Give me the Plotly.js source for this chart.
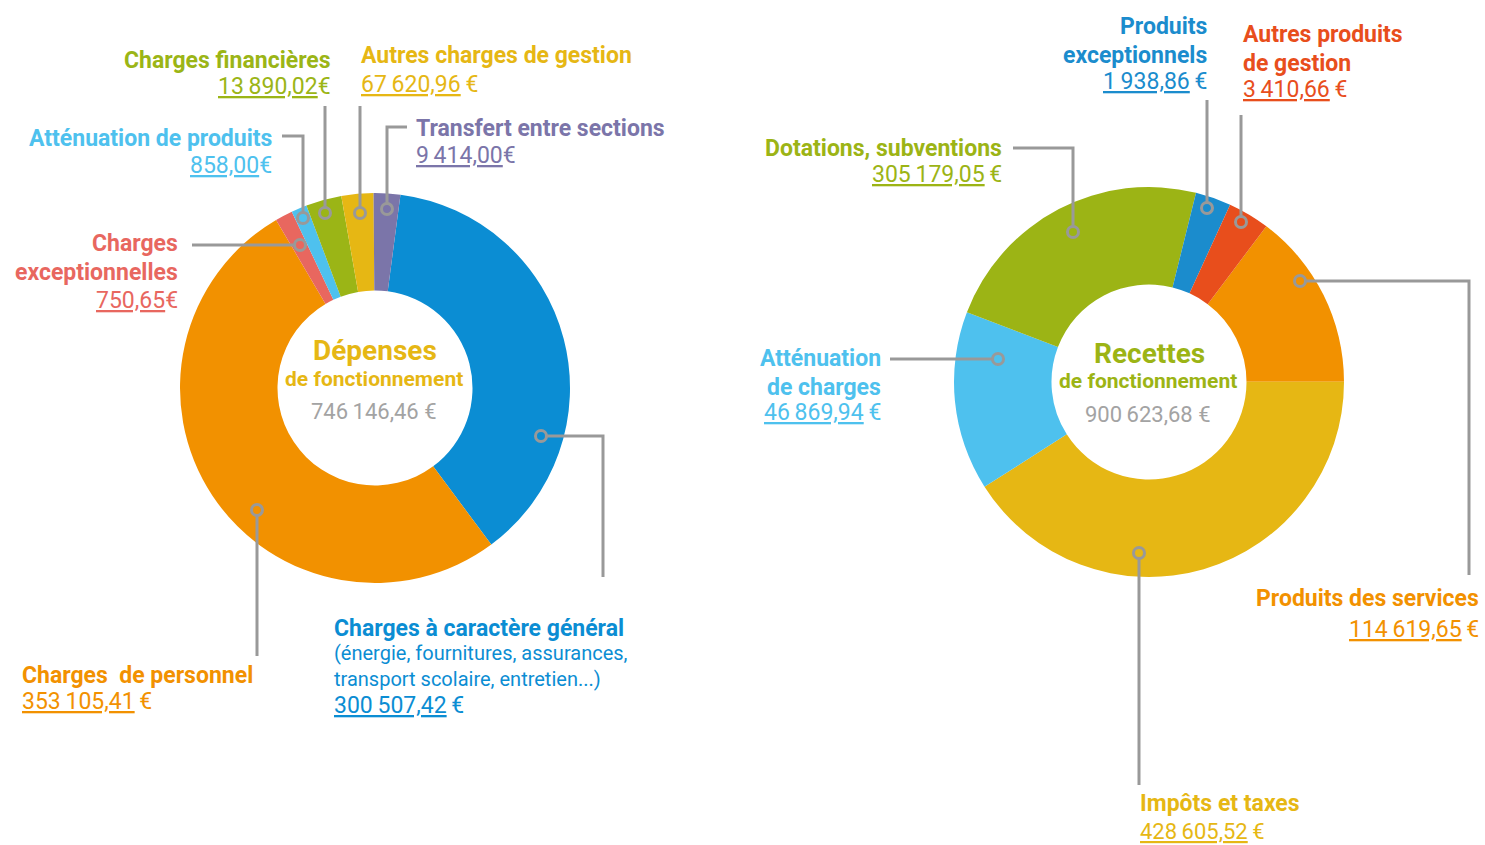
<!DOCTYPE html>
<html>
<head>
<meta charset="utf-8">
<script src="https://cdn.plot.ly/plotly-3.0.1.min.js"></script>
<style>
  html, body { margin: 0; padding: 0; background: #ffffff; }
  #chart { width: 1485px; height: 845px; }
</style>
</head>
<body>
<div id="chart"></div>
<script>
// ---------- DATA ----------
// Dépenses de fonctionnement (clockwise order, starting just right of 12 o'clock)
const depLabels = ['Charges à caractère général', 'Charges de personnel', 'Charges exceptionnelles',
  'Atténuation de produits', 'Charges financières', 'Autres charges de gestion', 'Transfert entre sections'];
const depAmounts = ['300\u2009507,42', '353\u2009105,41', '750,65', '858,00', '13\u2009890,02', '67\u2009620,96', '9\u2009414,00'];
// slice shares as drawn in the picture (%)
const depShares = [37.75, 51.7, 1.45, 1.3, 2.95, 2.65, 2.2];
const depColors = ['#0b8dd3', '#f29100', '#e8675f', '#4ec1ee', '#9bb516', '#e6b714', '#7b75a9'];
const depTotal = '746\u2009146,46 €';

// Recettes de fonctionnement
const recLabels = ['Produits des services', 'Impôts et taxes', 'Atténuation de charges',
  'Dotations, subventions', 'Produits exceptionnels', 'Autres produits de gestion'];
const recAmounts = ['114\u2009619,65', '428\u2009605,52', '46\u2009869,94', '305\u2009179,05', '1\u2009938,86', '3\u2009410,66'];
const recShares = [14.7, 41.0, 14.85, 23.05, 2.95, 3.45];
const recColors = ['#f29100', '#e6b714', '#4ec1ee', '#9cb415', '#1b8ccd', '#e84e1c'];
const recTotal = '900\u2009623,68 €';

// ---------- LAYOUT HELPERS ----------
const W = 1485, H = 845;
const px = x => x / W;
const py = y => 1 - y / H;
const FONT = 'Roboto, "Noto Sans", sans-serif';
const GREY = '#999999';

function pieDomain(cx, cy, r) {
  return { x: [px(cx - r), px(cx + r)], y: [py(cy + r), py(cy - r)] };
}

const traces = [
  {
    type: 'pie', labels: depLabels, values: depShares, sort: false, direction: 'clockwise',
    rotation: 7.5, hole: 0.5, textinfo: 'none', hoverinfo: 'skip',
    marker: { colors: depColors, line: { width: 0 } },
    domain: pieDomain(375, 388, 195), showlegend: false
  },
  {
    type: 'pie', labels: recLabels, values: recShares, sort: false, direction: 'clockwise',
    rotation: 37, hole: 0.5, textinfo: 'none', hoverinfo: 'skip',
    marker: { colors: recColors, line: { width: 0 } },
    domain: pieDomain(1149, 382, 195), showlegend: false
  }
];

const annotations = [];
function txt(x, y, text, color, opts) {
  opts = opts || {};
  annotations.push({
    x: px(x), y: py(y), xref: 'paper', yref: 'paper',
    xanchor: opts.anchor || 'left', yanchor: 'middle', showarrow: false,
    text: text, align: opts.anchor || 'left',
    font: { family: FONT, size: opts.size || 23, color: color, weight: opts.weight || 400 }
  });
}
function title(x, y, text, color, anchor, size) { txt(x, y, text, color, { anchor: anchor, weight: 700, size: size }); }
function amount(x, y, num, color, anchor, sep, size) {
  txt(x, y, '<u>' + num + '</u>' + (sep === undefined ? '\u2009' : sep) + '€', color, { anchor: anchor, size: size });
}

// --- Dépenses labels ---
title(333, 60, depLabels[4], depColors[4], 'right');
amount(333, 86, depAmounts[4], depColors[4], 'right', '');
title(359, 55, depLabels[5], depColors[5], 'left');
amount(359, 84, depAmounts[5], depColors[5], 'left');
title(274, 138, depLabels[3], depColors[3], 'right');
amount(274, 165, depAmounts[3], depColors[3], 'right', '');
title(414, 129, depLabels[6], depColors[6], 'left');
amount(414, 155, depAmounts[6], depColors[6], 'left', '');
title(180, 244, 'Charges', depColors[2], 'right');
title(180, 272, 'exceptionnelles', depColors[2], 'right');
amount(180, 300, depAmounts[2], depColors[2], 'right', '');
title(332, 628, depLabels[0], depColors[0], 'left');
txt(332, 653, '(énergie, fournitures, assurances,', depColors[0], { anchor: 'left', size: 20 });
txt(332, 679, 'transport scolaire, entretien...)', depColors[0], { anchor: 'left', size: 20 });
amount(332, 705, depAmounts[0], depColors[0], 'left');
title(20, 675, 'Charges\u00a0 de personnel', depColors[1], 'left');
amount(20, 701, depAmounts[1], depColors[1], 'left');
// centre
txt(375, 350, 'Dépenses', '#e6b714', { anchor: 'center', weight: 700, size: 28 });
txt(374, 379, 'de fonctionnement', '#e6b714', { anchor: 'center', weight: 700, size: 21 });
txt(374, 411, depTotal, '#a3a3a3', { anchor: 'center', size: 22 });

// --- Recettes labels ---
title(1209, 27, 'Produits', recColors[4], 'right');
title(1209, 56, 'exceptionnels', recColors[4], 'right');
amount(1209, 82, recAmounts[4], recColors[4], 'right');
title(1241, 34, 'Autres produits', recColors[5], 'left');
title(1241, 63, 'de gestion', recColors[5], 'left');
amount(1241, 90, recAmounts[5], recColors[5], 'left');
title(1004, 148, recLabels[3], recColors[3], 'right');
amount(1004, 174, recAmounts[3], recColors[3], 'right');
title(883, 358, 'Atténuation', recColors[2], 'right');
title(883, 387, 'de charges', recColors[2], 'right');
amount(883, 413, recAmounts[2], recColors[2], 'right');
title(1481, 598, recLabels[0], recColors[0], 'right');
amount(1481, 629, recAmounts[0], recColors[0], 'right');
title(1138, 803, recLabels[1], recColors[1], 'left');
amount(1138, 831, recAmounts[1], recColors[1], 'left', '\u2009', 22);
// centre
txt(1149, 353, 'Recettes', '#9cb415', { anchor: 'center', weight: 700, size: 28 });
txt(1148, 381, 'de fonctionnement', '#9cb415', { anchor: 'center', weight: 700, size: 21 });
txt(1148, 414, recTotal, '#a3a3a3', { anchor: 'center', size: 22 });

// ---------- LEADER LINES ----------
const shapes = [];
const CR = 5.5;
function leader(points, cx, cy) {
  let d = 'M ' + points.map(p => px(p[0]) + ',' + py(p[1])).join(' L ');
  shapes.push({ type: 'path', xref: 'paper', yref: 'paper', path: d, line: { color: GREY, width: 3 } });
  shapes.push({ type: 'circle', xref: 'paper', yref: 'paper',
    x0: px(cx - CR), x1: px(cx + CR), y0: py(cy + CR), y1: py(cy - CR),
    line: { color: GREY, width: 3 }, fillcolor: 'rgba(0,0,0,0)' });
}
// Dépenses
leader([[282, 136], [303, 136], [303, 212]], 303, 218);
leader([[325, 106], [325, 207]], 325, 213);
leader([[360, 106], [360, 207]], 360, 213);
leader([[407, 127], [387, 127], [387, 203]], 387, 209);
leader([[192, 245], [294, 245]], 300, 245);
leader([[547, 436], [603, 436], [603, 577]], 541, 436);
leader([[257, 516], [257, 656]], 257, 510);
// Recettes
leader([[1013, 148], [1073, 148], [1073, 226]], 1073, 232);
leader([[1207, 100], [1207, 202]], 1207, 208);
leader([[1241, 115], [1241, 216]], 1241, 222);
leader([[890, 359], [992, 359]], 998, 359);
leader([[1306, 281], [1469, 281], [1469, 575]], 1300, 281);
leader([[1139, 559], [1139, 785]], 1139, 553);

const layout = {
  width: W, height: H,
  margin: { l: 0, r: 0, t: 0, b: 0 },
  paper_bgcolor: '#ffffff', plot_bgcolor: '#ffffff',
  showlegend: false,
  annotations: annotations,
  shapes: shapes
};

Plotly.newPlot('chart', traces, layout, { staticPlot: true, displayModeBar: false });
</script>
</body>
</html>
